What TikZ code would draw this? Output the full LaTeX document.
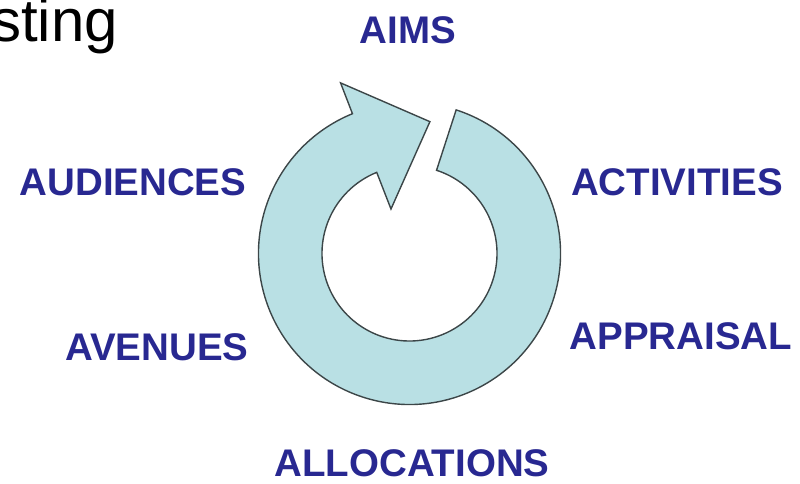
\documentclass[tikz,border=0pt]{standalone}
\usepackage{fontspec}
\setmainfont{Liberation Sans}
\definecolor{lblue}{RGB}{40,40,145}
\definecolor{ringfill}{RGB}{185,224,228}
\definecolor{ringline}{RGB}{60,70,72}
\tikzset{
  lbl/.style={text=lblue, font=\fontsize{38.5}{42}\selectfont\bfseries, inner sep=0pt},
  ring/.style={fill=ringfill, draw=ringline, line width=1.4pt, line join=miter}
}
\begin{document}
\begin{tikzpicture}[x=1pt,y=1pt]
\useasboundingbox (0,0) rectangle (800,484);
\clip (0,0) rectangle (800,484);
% title fragment
\node[anchor=base east, inner sep=0pt, font=\fontsize{60}{64}\selectfont] (title) at (118,442) {sting};
% circular arrow
\begin{scope}[shift={(409.5,230.5)}]
\draw[ring] (72:151) arc[start angle=72, end angle=-247.8, radius=151]
  -- (112:184) -- (81.2:133.4) -- (112.6:48.2) -- (112:87.5)
  arc[start angle=112, end angle=432, radius=87.5] -- cycle;
\end{scope}
% labels
\node[lbl] (aims) at (408,454) {AIMS};
\node[lbl] (aud) at (133,302) {AUDIENCES};
\node[lbl] (act) at (677,302) {ACTIVITIES};
\node[lbl] (ave) at (157,137) {AVENUES};
\node[lbl] (app) at (681,148) {APPRAISAL};
\node[lbl] (all) at (412,21) {ALLOCATIONS};
\end{tikzpicture}
\end{document}
